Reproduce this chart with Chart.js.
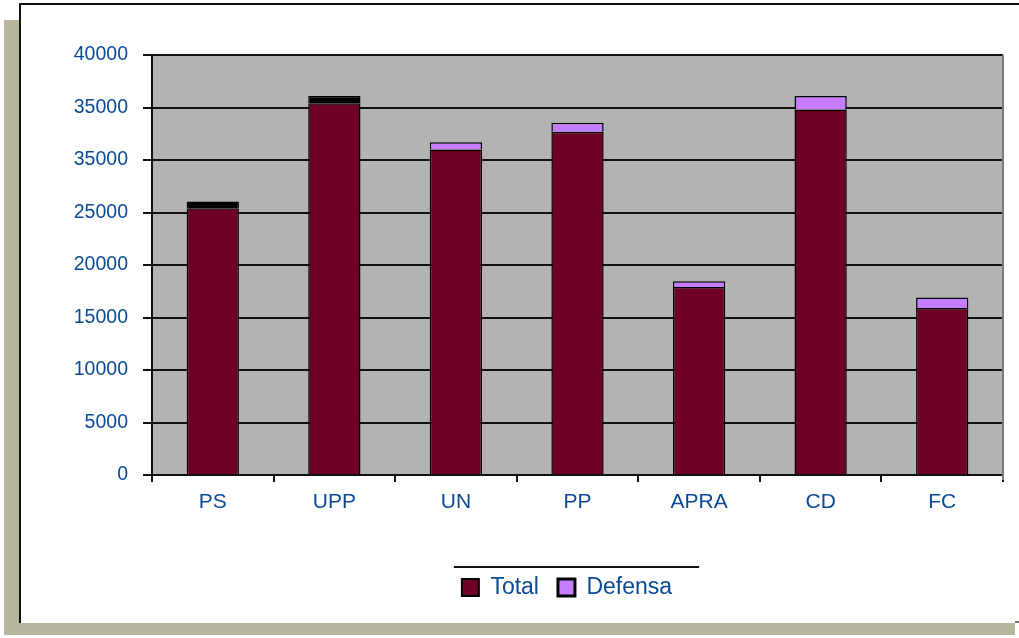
<!DOCTYPE html>
<html>
<head>
<meta charset="utf-8">
<script src="https://cdn.jsdelivr.net/npm/chart.js@4"></script>
<style>
  html, body { margin: 0; padding: 0; background: #fff; }
  canvas { display: block; }
</style>
</head>
<body>
<canvas id="c" width="1019" height="638"></canvas>
<script>
const categories = ['PS', 'UPP', 'UN', 'PP', 'APRA', 'CD', 'FC'];
const totalValues = [25400, 35400, 31000, 32700, 17900, 34800, 15900];
const defensaValues = [650, 700, 700, 850, 550, 1300, 1000];
const yTickValues = [0, 5000, 10000, 15000, 20000, 25000, 30000, 35000, 40000];
const yTickLabels = ['0', '5000', '10000', '15000', '20000', '25000', '35000', '35000', '40000'];

const MAROON = '#6E0024';
const PURPLE = '#C67CFF';
const TEXT = '#0A4A94';
const defensaColors = categories.map((c, i) => (i < 2 ? '#000000' : PURPLE));

const framePlugin = {
  id: 'frame',
  afterLayout(chart) {
    const lg = chart.legend;
    if (!lg) return;
    const centre = 567;
    const dx = centre - (lg.left + lg.right) / 2;
    lg.left += dx; lg.right += dx;
    if (lg.legendHitBoxes) lg.legendHitBoxes.forEach(h => { h.left += dx; });
  },
  beforeDraw(chart) {
    const ctx = chart.ctx;
    ctx.save();
    ctx.fillStyle = '#ffffff';
    ctx.fillRect(0, 0, chart.width, chart.height);
    ctx.fillStyle = '#B7B59B';
    ctx.fillRect(4, 20, 16, 615);
    ctx.fillRect(4, 623, 1011, 12);
    ctx.fillStyle = '#111';
    ctx.fillRect(19, 3, 1000, 2);
    ctx.fillRect(19, 3, 2, 620);
    ctx.fillStyle = '#777';
    ctx.fillRect(1015, 621, 4, 2);
    const a = chart.chartArea;
    ctx.fillStyle = '#B3B3B3';
    ctx.fillRect(a.left, a.top, a.right - a.left, a.bottom - a.top);
    ctx.restore();
  },
  afterDraw(chart) {
    const ctx = chart.ctx;
    const a = chart.chartArea;
    ctx.save();
    ctx.strokeStyle = '#7a7a7a';
    ctx.lineWidth = 2;
    ctx.beginPath();
    ctx.moveTo(a.right, a.top);
    ctx.lineTo(a.right, a.bottom + 5);
    ctx.stroke();
    const lg = chart.legend;
    if (lg && lg.legendHitBoxes && lg.legendHitBoxes.length) {
      const hb = lg.legendHitBoxes;
      const x0 = hb[0].left - 8;
      const last = hb[hb.length - 1];
      const x1 = last.left + last.width + 27;
      ctx.strokeStyle = '#111';
      ctx.lineWidth = 2;
      ctx.beginPath();
      ctx.moveTo(x0, 567);
      ctx.lineTo(x1, 567);
      ctx.stroke();
    }
    ctx.restore();
  }
};

new Chart(document.getElementById('c'), {
  type: 'bar',
  data: {
    labels: categories,
    datasets: [
      {
        label: 'Total',
        data: totalValues,
        backgroundColor: MAROON,
        borderColor: '#000',
        borderWidth: 1.5,
        barPercentage: 0.43,
        categoryPercentage: 1.0
      },
      {
        label: 'Defensa',
        data: defensaValues,
        backgroundColor: defensaColors,
        borderColor: '#000',
        borderWidth: 1.5,
        barPercentage: 0.43,
        categoryPercentage: 1.0
      }
    ]
  },
  options: {
    responsive: false,
    animation: false,
    devicePixelRatio: 1,
    layout: { padding: { top: 55, right: 16, bottom: 29, left: 0 } },
    scales: {
      x: {
        stacked: true,
        afterFit(s) { s.height = 82; },
        grid: {
          display: true,
          offset: true,
          drawOnChartArea: false,
          drawTicks: true,
          tickLength: 7,
          color: '#111',
          lineWidth: 2
        },
        border: { display: true, color: '#111', width: 2 },
        ticks: {
          color: TEXT,
          padding: 8,
          font: { family: '"Liberation Sans", Arial, sans-serif', size: 21 }
        }
      },
      y: {
        stacked: true,
        min: 0,
        max: 40000,
        afterFit(s) { s.width = 152; },
        afterBuildTicks(s) { s.ticks = yTickValues.map(v => ({ value: v })); },
        grid: {
          color: '#111',
          lineWidth: 2,
          drawTicks: true,
          tickLength: 9
        },
        border: { display: true, color: '#111', width: 2 },
        ticks: {
          color: TEXT,
          padding: 15,
          font: { family: '"Liberation Sans", Arial, sans-serif', size: 19.5 },
          callback(value) {
            const i = yTickValues.indexOf(value);
            return i >= 0 ? yTickLabels[i] : '';
          }
        }
      }
    },
    plugins: {
      legend: {
        display: true,
        position: 'bottom',
        labels: {
          color: TEXT,
          boxWidth: 17,
          boxHeight: 17,
          padding: 19,
          font: { family: '"Liberation Sans", Arial, sans-serif', size: 23 },
          generateLabels(chart) {
            return chart.data.datasets.map((ds, i) => ({
              text: ds.label,
              fillStyle: i === 0 ? MAROON : PURPLE,
              strokeStyle: '#000',
              lineWidth: i === 0 ? 2 : 3,
              hidden: false,
              datasetIndex: i,
              fontColor: TEXT
            }));
          }
        }
      },
      tooltip: { enabled: false }
    }
  },
  plugins: [framePlugin]
});
</script>
</body>
</html>
